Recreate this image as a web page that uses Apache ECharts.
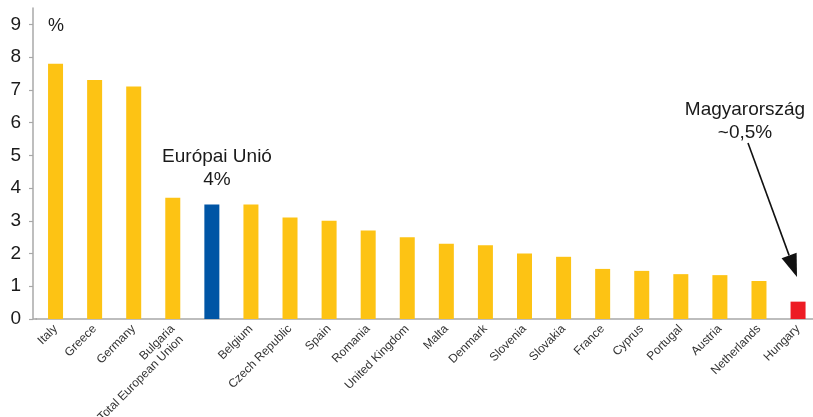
<!DOCTYPE html>
<html><head><meta charset="utf-8">
<script src="https://cdn.jsdelivr.net/npm/echarts@6/dist/echarts.min.js"></script>
<style>html,body{margin:0;padding:0;background:#fff}#c{width:813px;height:417px}</style>
</head><body><div id="c"></div>
<script>
const categories = ["Italy","Greece","Germany","Bulgaria","Total European Union","Belgium","Czech Republic","Spain","Romania","United Kingdom","Malta","Denmark","Slovenia","Slovakia","France","Cyprus","Portugal","Austria","Netherlands","Hungary"];
const values = [7.8,7.3,7.1,3.7,3.5,3.5,3.1,3.0,2.7,2.5,2.3,2.25,2.0,1.9,1.53,1.47,1.37,1.34,1.16,0.53];
const yTicks = [0,1,2,3,4,5,6,7,8,9];

const YELLOW = '#FDC314', BLUE = '#0055A5', RED = '#ED1C24';
const FONT = 'Liberation Sans, Arial, sans-serif';

const chart = echarts.init(document.getElementById('c'), null, {renderer:'canvas'});

// arrow geometry (annotation)
const ax0 = 748, ay0 = 143, ax1 = 797, ay1 = 277;
const dx = ax1-ax0, dy = ay1-ay0, L = Math.hypot(dx,dy), ux = dx/L, uy = dy/L;
const headLen = 23, headHalf = 8;
const bx = ax1 - ux*headLen, by = ay1 - uy*headLen;

const NB = '\u00a0';
chart.setOption({
  animation:false,
  textStyle:{fontFamily:FONT},
  grid:{left:36, right:-4.6, top:8, bottom:98, containLabel:false, outerBoundsMode:'none'},
  xAxis:{
    type:'category', data:categories,
    axisLine:{lineStyle:{color:'#a8a8a8', width:1.5}},
    axisTick:{show:false},
    axisLabel:{rotate:45, interval:0, fontSize:12, lineHeight:14, color:'#333', margin:8, fontFamily:FONT,
      formatter:function(v){ return v==='Total European Union' ? v + NB.repeat(8) + '\u2009\n\n' : v; }}
  },
  yAxis:{
    type:'value', min:0, max:9.5, offset:3,
    axisLine:{show:true, lineStyle:{color:'#a8a8a8', width:1.5}},
    axisTick:{show:true, length:4, customValues:yTicks, lineStyle:{color:'#a8a8a8', width:1.2}},
    axisLabel:{customValues:yTicks, fontSize:19, color:'#1a1a1a', margin:12, fontFamily:FONT},
    splitLine:{show:false}
  },
  series:[{
    type:'bar', data:values, barWidth:15,
    itemStyle:{color:function(p){
      if(p.name==='Total European Union') return BLUE;
      if(p.name==='Hungary') return RED;
      return YELLOW;
    }}
  }],
  graphic:[
    {type:'line', shape:{x1:33,y1:319,x2:37,y2:319}, style:{stroke:'#a8a8a8', lineWidth:1.5}},
    {type:'text', left:48, top:17, style:{text:'%', fontSize:18, fill:'#1a1a1a', fontFamily:FONT}},
    {type:'text', x:217, y:145, style:{text:'Európai Unió\n4%', fontSize:19, lineHeight:23, fill:'#1a1a1a', align:'center', fontFamily:FONT}},
    {type:'text', x:745, y:98, style:{text:'Magyarország\n~0,5%', fontSize:19, lineHeight:23, fill:'#1a1a1a', align:'center', fontFamily:FONT}},
    {type:'line', shape:{x1:ax0,y1:ay0,x2:bx,y2:by}, style:{stroke:'#111', lineWidth:1.6}},
    {type:'polygon', shape:{points:[[ax1,ay1],[bx - uy*headHalf, by + ux*headHalf],[bx + uy*headHalf, by - ux*headHalf]]}, style:{fill:'#111'}}
  ]
});
</script></body></html>
